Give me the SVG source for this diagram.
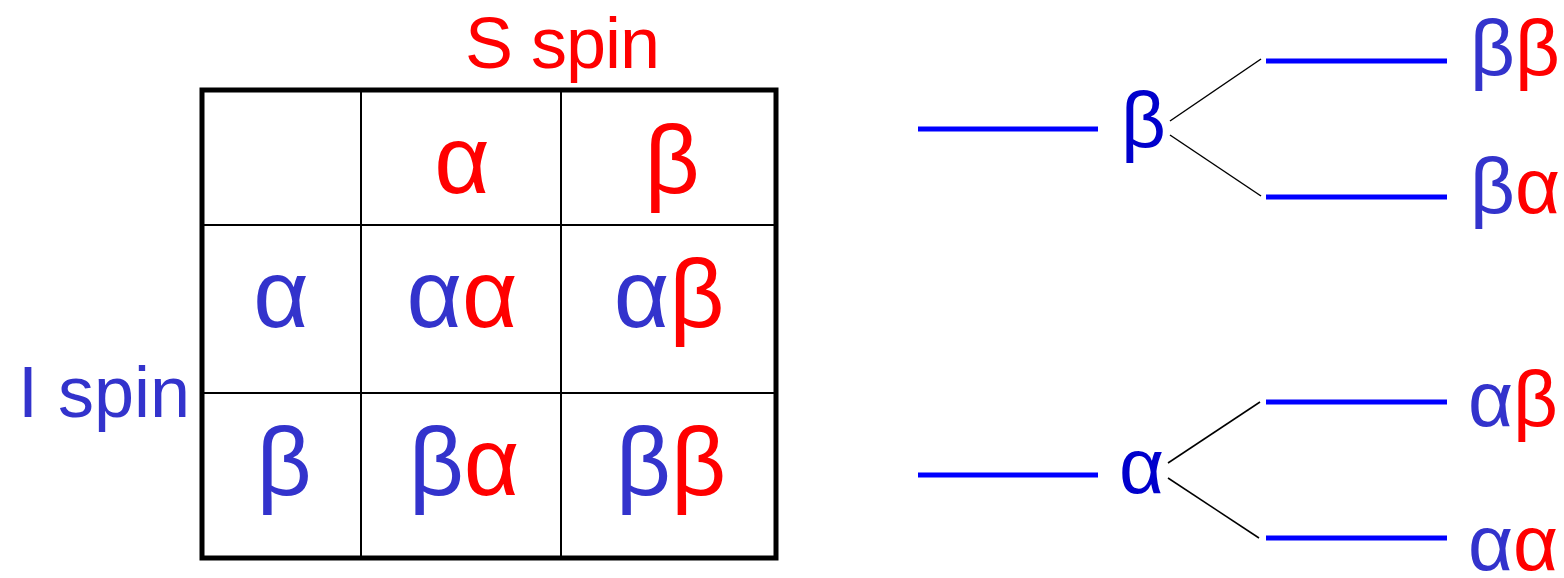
<svg xmlns="http://www.w3.org/2000/svg" width="1564" height="578" viewBox="0 0 1564 578">
<style>
text{font-family:"Liberation Sans","DejaVu Sans",sans-serif}
.b{fill:#3333CC}.r{fill:#FF0000}.d{fill:#0000CC}
.cell{font-size:96px;text-anchor:middle}
.lab{font-size:78px}
.lvl{stroke:#0000FF;stroke-width:5;fill:none}
.tie{stroke:#000;stroke-width:1.5;fill:none}
.grid{stroke:#000;stroke-width:2;fill:none}
</style>
<rect width="1564" height="578" fill="#fff"/>
<g id="table">
<rect x="202" y="90" width="574" height="468" fill="none" stroke="#000" stroke-width="5"/>
<line class="grid" x1="361" y1="90" x2="361" y2="558"/>
<line class="grid" x1="561" y1="90" x2="561" y2="558"/>
<line class="grid" x1="202" y1="225" x2="776" y2="225"/>
<line class="grid" x1="202" y1="393" x2="776" y2="393"/>
</g>
<g id="s-spin"><text x="465" y="68" font-size="72" class="r" textLength="195">S spin</text></g>
<g id="i-spin"><text x="18" y="417" font-size="72" class="b" textLength="172">I spin</text></g>
<g id="cells">
<text class="cell r" x="462" y="193">α</text>
<text class="cell r" x="672" y="193">β</text>
<text class="cell b" x="281" y="327">α</text>
<text class="cell" x="462" y="327"><tspan class="b">α</tspan><tspan class="r">α</tspan></text>
<text class="cell" x="669" y="327"><tspan class="b">α</tspan><tspan class="r">β</tspan></text>
<text class="cell b" x="284" y="495">β</text>
<text class="cell" x="464" y="495"><tspan class="b">β</tspan><tspan class="r">α</tspan></text>
<text class="cell" x="671" y="495"><tspan class="b">β</tspan><tspan class="r">β</tspan></text>
</g>
<g id="connectors">
<line class="lvl" x1="918" y1="129" x2="1098" y2="129"/>
<line class="lvl" x1="1266" y1="61" x2="1447" y2="61"/>
<line class="lvl" x1="1266" y1="197" x2="1447" y2="197"/>
<line class="lvl" x1="918" y1="475" x2="1098" y2="475"/>
<line class="lvl" x1="1266" y1="402" x2="1447" y2="402"/>
<line class="lvl" x1="1266" y1="538" x2="1447" y2="538"/>
<line class="tie" x1="1170" y1="121" x2="1261" y2="59"/>
<line class="tie" x1="1170" y1="135" x2="1261" y2="196"/>
<line class="tie" x1="1168" y1="463" x2="1260" y2="402"/>
<line class="tie" x1="1168" y1="478" x2="1259" y2="538"/>
</g>
<g id="beta-level"><text class="lab d" x="1121" y="147" font-size="86">β</text></g>
<g id="alpha-level"><text class="lab d" x="1119" y="493" font-size="86">α</text></g>
<g id="bb"><text class="lab" x="1470" y="75"><tspan class="b">β</tspan><tspan class="r">β</tspan></text></g>
<g id="ba"><text class="lab" x="1470" y="213"><tspan class="b">β</tspan><tspan class="r">α</tspan></text></g>
<g id="ab"><text class="lab" x="1468" y="426"><tspan class="b">α</tspan><tspan class="r">β</tspan></text></g>
<g id="aa"><text class="lab" x="1468" y="570"><tspan class="b">α</tspan><tspan class="r">α</tspan></text></g>
</svg>
